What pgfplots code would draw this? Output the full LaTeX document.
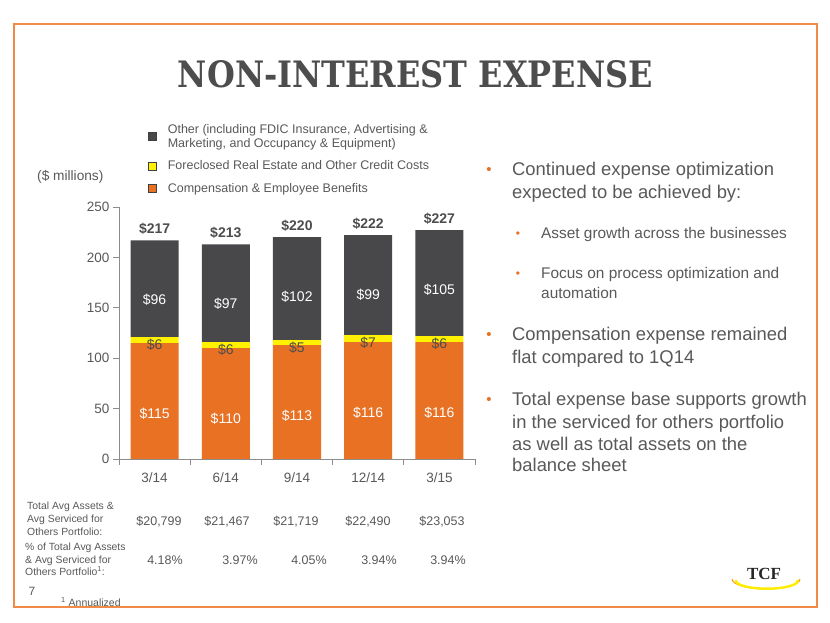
\documentclass[border=0pt]{standalone}
\usepackage{fontspec}
\setmainfont{Liberation Sans}
\newfontfamily\titlefont{DejaVu Serif}
\newfontfamily\logofont{Liberation Serif}
\usepackage{graphicx}
\usepackage{pgfplots}
\pgfplotsset{compat=1.18}
\usepackage{pgfplotstable}

\definecolor{txt}{HTML}{595959}
\definecolor{ttl}{HTML}{4D4D4D}
\definecolor{orng}{HTML}{E87124}
\definecolor{yel}{HTML}{FFF100}
\definecolor{dgray}{HTML}{48484A}
\definecolor{frm}{HTML}{F08A46}
\definecolor{axgray}{HTML}{8C8C8C}

\pgfplotstableread{
x comp fore other total
0 115 6 96 217
1 110 6 97 213
2 113 5 102 220
3 116 7 99 222
4 116 6 105 227
}\nonint

\newcommand{\tx}[4]{\node[anchor=base west, inner sep=0pt, text=txt, font=\fontsize{#1}{#1}\selectfont] at (#2,#3) {#4};}
\newcommand{\tc}[4]{\node[anchor=base, inner sep=0pt, text=txt, font=\fontsize{#1}{#1}\selectfont] at (#2,#3) {#4};}
\newcommand{\bul}[3]{\node[text=orng, inner sep=0pt, font=\fontsize{#1}{#1}\selectfont] at (#2,#3) {\textbullet};}

\pgfplotsset{
  common/.style={at={(119pt,164pt)}, anchor=south west,
    scale only axis, width=356pt, height=252pt,
    xmin=-0.5, xmax=4.5, ymin=0, ymax=250, clip=false,
    /pgf/number format/assume math mode=true},
  lbl/.style={only marks, mark=*, mark size=0pt, mark options={draw=none, fill=none},
    point meta=explicit,
    nodes near coords={\$\pgfmathprintnumber{\pgfplotspointmeta}},
    nodes near coords style={anchor=center, font=\fontsize{14}{14}\selectfont, #1}},
}

\begin{document}
\begin{tikzpicture}
\path[use as bounding box, fill=white] (0,0) rectangle (830pt,623pt);
\begin{scope}[x=1pt,y=-1pt,yshift=623pt]
 \draw[frm, line width=1.4pt] (14,24) rectangle (817,607);
 \node[anchor=base, text=ttl, inner sep=0pt] at (415.5,88) {\resizebox{475pt}{27pt}{\titlefont\bfseries NON-INTEREST EXPENSE}};
 % ($ millions)
 \tx{13.7}{37}{181}{(\$ millions)}
 % right bullets
 \bul{15}{489}{171}
 \tx{18.4}{512}{175.5}{Continued expense optimization}
 \tx{18.4}{512}{198.5}{expected to be achieved by:}
 \bul{12}{518}{235}
 \tx{15.4}{541}{238.5}{Asset growth across the businesses}
 \bul{12}{518}{275}
 \tx{15.4}{541}{278.5}{Focus on process optimization and}
 \tx{15.4}{541}{298.5}{automation}
 \bul{15}{489}{336}
 \tx{18.4}{512}{340.5}{Compensation expense remained}
 \tx{18.4}{512}{363.5}{flat compared to 1Q14}
 \bul{15}{489}{401}
 \tx{18.4}{512}{405.5}{Total expense base supports growth}
 \tx{18.4}{512}{428.5}{in the serviced for others portfolio}
 \tx{18.4}{512}{450.5}{as well as total assets on the}
 \tx{18.4}{512}{471.5}{balance sheet}
 % bottom table
 \tx{10.4}{27}{509.6}{Total Avg Assets \&}
 \tx{10.4}{27}{522.6}{Avg Serviced for}
 \tx{10.4}{27}{535.6}{Others Portfolio:}
 \tx{10.4}{25}{550.6}{\% of Total Avg Assets}
 \tx{10.4}{25}{563.6}{\& Avg Serviced for}
 \tx{10.4}{25}{575.6}{Others Portfolio\textsuperscript{1}:}
 \tc{12.5}{159}{525.5}{\$20,799}
 \tc{12.5}{227}{525.5}{\$21,467}
 \tc{12.5}{296}{525.5}{\$21,719}
 \tc{12.5}{368}{525.5}{\$22,490}
 \tc{12.5}{442}{525.5}{\$23,053}
 \tc{12.5}{165}{564.5}{4.18\%}
 \tc{12.5}{240}{564.5}{3.97\%}
 \tc{12.5}{309}{564.5}{4.05\%}
 \tc{12.5}{379}{564.5}{3.94\%}
 \tc{12.5}{448}{564.5}{3.94\%}
 \tc{12}{32}{595.5}{7}
 \tx{10.5}{61}{606.5}{\textsuperscript{1} Annualized}
 % logo
 \draw[orange!80!yellow, line width=1pt] (732,579) arc[start angle=180, end angle=0, x radius=34, y radius=10];
 \draw[yellow!95!orange, line width=2.4pt] (736,580) arc[start angle=185, end angle=-5, x radius=31, y radius=8];
 \node[font=\logofont\bfseries\fontsize{17}{17}\selectfont, text=black!85, inner sep=0pt] at (764,574) {TCF};
\end{scope}

\begin{axis}[common,
  ybar stacked, bar width=48pt,
  axis x line*=bottom, axis y line*=left,
  axis line style={draw=axgray, line width=0.8pt},
  ytick={0,50,...,250},
  ytick style={draw=axgray, line width=0.8pt},
  major tick length=6pt, tick align=outside,
  xtick={0,...,4}, xticklabels={3/14,6/14,9/14,12/14,3/15},
  xtick style={draw=none},
  xticklabel style={yshift=-4pt},
  extra x ticks={-0.5,0.5,1.5,2.5,3.5,4.5},
  extra x tick labels={},
  extra x tick style={xtick style={draw=axgray, line width=0.8pt}},
  tick label style={font=\fontsize{13.5}{16}\selectfont, text=txt},
  reverse legend,
  legend style={at={(0.0815,1.337)}, anchor=north west, draw=none, fill=none,
    font=\fontsize{12.5}{14}\selectfont, nodes={text=txt},
    cells={anchor=west, align=left}, row sep=8pt, inner sep=0pt,
    /tikz/every odd column/.append style={column sep=9pt}},
]
\addplot[fill=orng, draw=none,
  legend image code/.code={\draw[fill=orng, draw=black!75, line width=0.6pt] (0pt,-4pt) rectangle (8pt,4pt);}]
  table[x=x, y=comp] {\nonint};
\addlegendentry{Compensation \& Employee Benefits}
\addplot[fill=yel, draw=none,
  legend image code/.code={\draw[fill=yel, draw=black!75, line width=0.6pt] (0pt,-4pt) rectangle (8pt,4pt);}]
  table[x=x, y=fore] {\nonint};
\addlegendentry{Foreclosed Real Estate and Other Credit Costs}
\addplot[fill=dgray, draw=none,
  legend image code/.code={\draw[fill=dgray, draw=black!75, line width=0.6pt] (0pt,-4pt) rectangle (8pt,4pt);}]
  table[x=x, y=other] {\nonint};
\addlegendentry{Other (including FDIC Insurance, Advertising \&\\Marketing, and Occupancy \& Equipment)}
\end{axis}

\begin{axis}[common, hide axis]
\addplot[lbl={text=white}] table[x=x, y expr=\thisrow{comp}-70, meta=comp] {\nonint};
\addplot[lbl={text=ttl}] table[x=x, y expr=\thisrow{comp}+\thisrow{fore}-8, meta=fore] {\nonint};
\addplot[lbl={text=white}] table[x=x, y expr=\thisrow{total}-59.5, meta=other] {\nonint};
\addplot[lbl={text=ttl, font=\bfseries\fontsize{14}{14}\selectfont}] table[x=x, y expr=\thisrow{total}+11, meta=total] {\nonint};
\end{axis}
\end{tikzpicture}
\end{document}
